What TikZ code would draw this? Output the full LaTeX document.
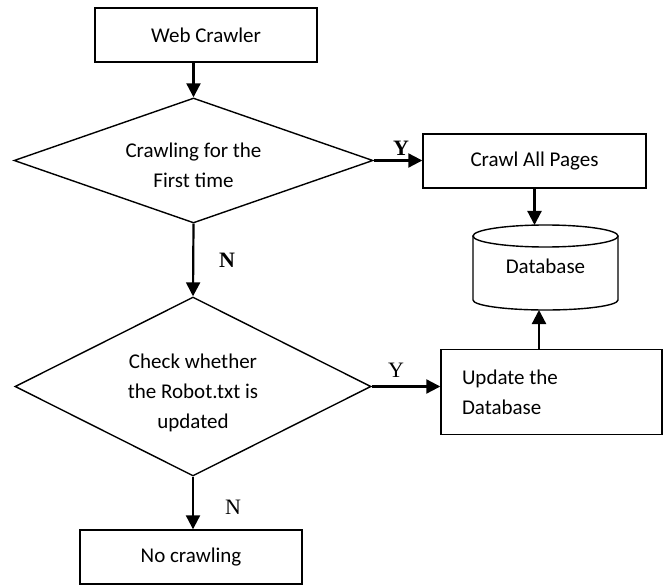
\documentclass[tikz,border=0pt]{standalone}
\usepackage{fontspec}
\setmainfont{Carlito}
\newfontfamily\tnr{Liberation Serif}
\usetikzlibrary{shapes.geometric,arrows.meta}
\tikzset{
  boxst/.style={draw, line width=1.4pt, rectangle, inner sep=0pt,
    font=\fontsize{21pt}{30pt}\selectfont},
  decst/.style={draw, line width=1.4pt, diamond, inner sep=0pt, align=center,
    font=\fontsize{21pt}{30pt}\selectfont},
  arr/.style={line width=2.2pt, -{Triangle[length=14pt,width=14pt]}},
  lblst/.style={font=\tnr\fontsize{22pt}{24pt}\selectfont, inner sep=0pt},
  lblbold/.style={font=\tnr\bfseries\fontsize{22pt}{24pt}\selectfont, inner sep=0pt}
}
\begin{document}
\begin{tikzpicture}[x=1pt,y=-1pt]
\useasboundingbox (0,0) rectangle (669,585);
\node[boxst, minimum width=222pt, minimum height=54pt] (wc) at (206,35) {Web Crawler};
\node[decst, minimum width=359pt, minimum height=125pt, aspect=2.87] (d1) at (193.5,160.5) {\rule{0pt}{25pt}Crawling for the\\First time};
\node[decst, minimum width=356pt, minimum height=179pt, aspect=1.99] (d2) at (193,386.5) {\rule{0pt}{27pt}Check whether\\the Robot.txt is\\updated};
\node[boxst, minimum width=222pt, minimum height=54pt] (nc) at (191,557) {No crawling};
\node[boxst, minimum width=223pt, minimum height=54pt] (cap) at (534.5,161) {Crawl All Pages};
\node[boxst, minimum width=221pt, minimum height=85pt, text width=179pt, inner xsep=21pt, align=flush left] (up) at (551.5,392) {Update the\\Database};
% database cylinder
\draw[line width=1.4pt] (473,236) -- (473,300) arc[start angle=180, end angle=360, x radius=72.5pt, y radius=10pt] -- (618,236);
\draw[line width=1.4pt] (545.5,236) ellipse [x radius=72.5pt, y radius=11pt];
\node[font=\fontsize{21pt}{30pt}\selectfont, inner sep=0pt] (db) at (545.5,266) {Database};
\coordinate (dbtop) at (534.5,225);
\coordinate (dbbot) at (539,310);
% connectors
\draw[arr] (wc.south -| d1.north) -- (d1.north);
\draw[arr] (d1.south) -- (d2.north);
\draw[arr] (d2.south) -- (d2.south |- nc.north);
\draw[arr] (d1.east) -- (d1.east -| cap.west);
\draw[arr] (cap.south) -- (cap.south |- dbtop);
\draw[arr] (d2.east) -- (d2.east -| up.west);
\draw[arr] (dbbot |- up.north) -- (dbbot);
% labels
\node[lblbold] (ly1) at (401,148) {Y};
\node[lblbold] (ln1) at (227,260) {N};
\node[lblst] (ly2) at (396,370) {Y};
\node[lblst] (ln2) at (233,507) {N};
\end{tikzpicture}
\end{document}
